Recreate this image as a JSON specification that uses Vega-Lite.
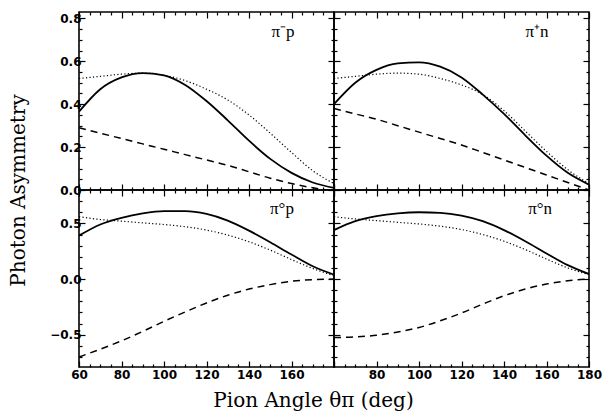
{
  "$schema": "https://vega.github.io/schema/vega-lite/v6.json",
  "background": "white",
  "padding": {"left": 7, "top": 10, "right": 12, "bottom": 3},
  "config": {
    "view": {"stroke": "black", "strokeWidth": 1.6},
    "axis": {"grid": false, "domain": false, "tickColor": "black", "tickWidth": 1.2, "labelFlush": false, "labelOverlap": false, "labelFont": "DejaVu Sans", "labelFontSize": 12, "labelFontWeight": "bold", "labelColor": "black", "titleFont": "DejaVu Serif", "titleFontSize": 20, "titleFontWeight": "normal", "titleColor": "black"}
  },
  "datasets": {
    "curves": [
      {"panel":"a","style":"s","angle":60,"asym":0.365},{"panel":"a","style":"s","angle":70,"asym":0.47},{"panel":"a","style":"s","angle":80,"asym":0.525},{"panel":"a","style":"s","angle":90,"asym":0.545},{"panel":"a","style":"s","angle":100,"asym":0.535},{"panel":"a","style":"s","angle":110,"asym":0.49},{"panel":"a","style":"s","angle":120,"asym":0.415},{"panel":"a","style":"s","angle":130,"asym":0.325},{"panel":"a","style":"s","angle":140,"asym":0.23},{"panel":"a","style":"s","angle":150,"asym":0.145},{"panel":"a","style":"s","angle":160,"asym":0.08},{"panel":"a","style":"s","angle":170,"asym":0.035},{"panel":"a","style":"s","angle":180,"asym":0.01},
      {"panel":"a","style":"d","angle":60,"asym":0.52},{"panel":"a","style":"d","angle":70,"asym":0.53},{"panel":"a","style":"d","angle":80,"asym":0.54},{"panel":"a","style":"d","angle":90,"asym":0.545},{"panel":"a","style":"d","angle":100,"asym":0.535},{"panel":"a","style":"d","angle":110,"asym":0.51},{"panel":"a","style":"d","angle":120,"asym":0.47},{"panel":"a","style":"d","angle":130,"asym":0.42},{"panel":"a","style":"d","angle":140,"asym":0.35},{"panel":"a","style":"d","angle":150,"asym":0.265},{"panel":"a","style":"d","angle":160,"asym":0.175},{"panel":"a","style":"d","angle":170,"asym":0.09},{"panel":"a","style":"d","angle":180,"asym":0.03},
      {"panel":"a","style":"k","angle":60,"asym":0.29},{"panel":"a","style":"k","angle":70,"asym":0.265},{"panel":"a","style":"k","angle":80,"asym":0.24},{"panel":"a","style":"k","angle":90,"asym":0.215},{"panel":"a","style":"k","angle":100,"asym":0.19},{"panel":"a","style":"k","angle":110,"asym":0.165},{"panel":"a","style":"k","angle":120,"asym":0.14},{"panel":"a","style":"k","angle":130,"asym":0.115},{"panel":"a","style":"k","angle":140,"asym":0.085},{"panel":"a","style":"k","angle":150,"asym":0.055},{"panel":"a","style":"k","angle":160,"asym":0.03},{"panel":"a","style":"k","angle":170,"asym":0.01},{"panel":"a","style":"k","angle":180,"asym":-0.005},
      {"panel":"b","style":"s","angle":60,"asym":0.40},{"panel":"b","style":"s","angle":70,"asym":0.50},{"panel":"b","style":"s","angle":80,"asym":0.56},{"panel":"b","style":"s","angle":90,"asym":0.59},{"panel":"b","style":"s","angle":100,"asym":0.595},{"panel":"b","style":"s","angle":110,"asym":0.575},{"panel":"b","style":"s","angle":120,"asym":0.525},{"panel":"b","style":"s","angle":130,"asym":0.445},{"panel":"b","style":"s","angle":140,"asym":0.355},{"panel":"b","style":"s","angle":150,"asym":0.255},{"panel":"b","style":"s","angle":160,"asym":0.16},{"panel":"b","style":"s","angle":170,"asym":0.08},{"panel":"b","style":"s","angle":180,"asym":0.025},
      {"panel":"b","style":"d","angle":60,"asym":0.52},{"panel":"b","style":"d","angle":70,"asym":0.53},{"panel":"b","style":"d","angle":80,"asym":0.54},{"panel":"b","style":"d","angle":90,"asym":0.545},{"panel":"b","style":"d","angle":100,"asym":0.54},{"panel":"b","style":"d","angle":110,"asym":0.52},{"panel":"b","style":"d","angle":120,"asym":0.49},{"panel":"b","style":"d","angle":130,"asym":0.445},{"panel":"b","style":"d","angle":140,"asym":0.37},{"panel":"b","style":"d","angle":150,"asym":0.275},{"panel":"b","style":"d","angle":160,"asym":0.18},{"panel":"b","style":"d","angle":170,"asym":0.095},{"panel":"b","style":"d","angle":180,"asym":0.03},
      {"panel":"b","style":"k","angle":60,"asym":0.38},{"panel":"b","style":"k","angle":70,"asym":0.355},{"panel":"b","style":"k","angle":80,"asym":0.33},{"panel":"b","style":"k","angle":90,"asym":0.30},{"panel":"b","style":"k","angle":100,"asym":0.27},{"panel":"b","style":"k","angle":110,"asym":0.24},{"panel":"b","style":"k","angle":120,"asym":0.21},{"panel":"b","style":"k","angle":130,"asym":0.175},{"panel":"b","style":"k","angle":140,"asym":0.14},{"panel":"b","style":"k","angle":150,"asym":0.105},{"panel":"b","style":"k","angle":160,"asym":0.07},{"panel":"b","style":"k","angle":170,"asym":0.035},{"panel":"b","style":"k","angle":180,"asym":0.0},
      {"panel":"c","style":"s","angle":60,"asym":0.39},{"panel":"c","style":"s","angle":70,"asym":0.49},{"panel":"c","style":"s","angle":80,"asym":0.55},{"panel":"c","style":"s","angle":90,"asym":0.59},{"panel":"c","style":"s","angle":100,"asym":0.61},{"panel":"c","style":"s","angle":110,"asym":0.61},{"panel":"c","style":"s","angle":120,"asym":0.585},{"panel":"c","style":"s","angle":130,"asym":0.525},{"panel":"c","style":"s","angle":140,"asym":0.435},{"panel":"c","style":"s","angle":150,"asym":0.33},{"panel":"c","style":"s","angle":160,"asym":0.22},{"panel":"c","style":"s","angle":170,"asym":0.115},{"panel":"c","style":"s","angle":180,"asym":0.04},
      {"panel":"c","style":"d","angle":60,"asym":0.56},{"panel":"c","style":"d","angle":70,"asym":0.535},{"panel":"c","style":"d","angle":80,"asym":0.52},{"panel":"c","style":"d","angle":90,"asym":0.505},{"panel":"c","style":"d","angle":100,"asym":0.49},{"panel":"c","style":"d","angle":110,"asym":0.47},{"panel":"c","style":"d","angle":120,"asym":0.44},{"panel":"c","style":"d","angle":130,"asym":0.395},{"panel":"c","style":"d","angle":140,"asym":0.335},{"panel":"c","style":"d","angle":150,"asym":0.26},{"panel":"c","style":"d","angle":160,"asym":0.175},{"panel":"c","style":"d","angle":170,"asym":0.095},{"panel":"c","style":"d","angle":180,"asym":0.03},
      {"panel":"c","style":"k","angle":60,"asym":-0.70},{"panel":"c","style":"k","angle":70,"asym":-0.63},{"panel":"c","style":"k","angle":80,"asym":-0.555},{"panel":"c","style":"k","angle":90,"asym":-0.47},{"panel":"c","style":"k","angle":100,"asym":-0.38},{"panel":"c","style":"k","angle":110,"asym":-0.295},{"panel":"c","style":"k","angle":120,"asym":-0.215},{"panel":"c","style":"k","angle":130,"asym":-0.145},{"panel":"c","style":"k","angle":140,"asym":-0.09},{"panel":"c","style":"k","angle":150,"asym":-0.05},{"panel":"c","style":"k","angle":160,"asym":-0.02},{"panel":"c","style":"k","angle":170,"asym":-0.005},{"panel":"c","style":"k","angle":180,"asym":0.0},
      {"panel":"d","style":"s","angle":60,"asym":0.44},{"panel":"d","style":"s","angle":70,"asym":0.52},{"panel":"d","style":"s","angle":80,"asym":0.565},{"panel":"d","style":"s","angle":90,"asym":0.59},{"panel":"d","style":"s","angle":100,"asym":0.60},{"panel":"d","style":"s","angle":110,"asym":0.595},{"panel":"d","style":"s","angle":120,"asym":0.57},{"panel":"d","style":"s","angle":130,"asym":0.52},{"panel":"d","style":"s","angle":140,"asym":0.44},{"panel":"d","style":"s","angle":150,"asym":0.34},{"panel":"d","style":"s","angle":160,"asym":0.23},{"panel":"d","style":"s","angle":170,"asym":0.125},{"panel":"d","style":"s","angle":180,"asym":0.045},
      {"panel":"d","style":"d","angle":60,"asym":0.56},{"panel":"d","style":"d","angle":70,"asym":0.54},{"panel":"d","style":"d","angle":80,"asym":0.525},{"panel":"d","style":"d","angle":90,"asym":0.51},{"panel":"d","style":"d","angle":100,"asym":0.495},{"panel":"d","style":"d","angle":110,"asym":0.475},{"panel":"d","style":"d","angle":120,"asym":0.445},{"panel":"d","style":"d","angle":130,"asym":0.40},{"panel":"d","style":"d","angle":140,"asym":0.34},{"panel":"d","style":"d","angle":150,"asym":0.265},{"panel":"d","style":"d","angle":160,"asym":0.18},{"panel":"d","style":"d","angle":170,"asym":0.10},{"panel":"d","style":"d","angle":180,"asym":0.04},
      {"panel":"d","style":"k","angle":60,"asym":-0.525},{"panel":"d","style":"k","angle":70,"asym":-0.52},{"panel":"d","style":"k","angle":80,"asym":-0.505},{"panel":"d","style":"k","angle":90,"asym":-0.475},{"panel":"d","style":"k","angle":100,"asym":-0.435},{"panel":"d","style":"k","angle":110,"asym":-0.375},{"panel":"d","style":"k","angle":120,"asym":-0.305},{"panel":"d","style":"k","angle":130,"asym":-0.225},{"panel":"d","style":"k","angle":140,"asym":-0.15},{"panel":"d","style":"k","angle":150,"asym":-0.09},{"panel":"d","style":"k","angle":160,"asym":-0.045},{"panel":"d","style":"k","angle":170,"asym":-0.015},{"panel":"d","style":"k","angle":180,"asym":0.0}
    ],
    "labels": [
      {"panel":"a","label":"π⁻p","angle":156,"asym":0.735},
      {"panel":"b","label":"π⁺n","angle":155.5,"asym":0.735},
      {"panel":"c","label":"π°p","angle":155.5,"asym":0.63},
      {"panel":"d","label":"π°n","angle":157,"asym":0.63}
    ]
  },
  "columns": 2,
  "spacing": 0,
  "bounds": "flush",
  "concat": [
    {
      "width": 255, "height": 178,
      "layer": [
        {"data": {"name": "curves"}, "transform": [{"filter": "datum.panel === 'a' && datum.style === 's'"}],
         "mark": {"type": "line", "color": "black", "strokeWidth": 1.8, "interpolate": "monotone", "clip": true},
         "encoding": {
           "x": {"field": "angle", "type": "quantitative", "scale": {"domain": [60, 180], "nice": false, "zero": false},
                 "axis": {"orient": "bottom", "values": [60,65,70,75,80,85,90,95,100,105,110,115,120,125,130,135,140,145,150,155,160,165,170,175,180], "labels": false, "title": null, "tickSize": {"condition": {"test": "datum.value % 20 === 0", "value": -6}, "value": -3}}},
           "y": {"field": "asym", "type": "quantitative", "scale": {"domain": [0, 0.83], "nice": false, "zero": false},
                 "axis": {"orient": "left", "values": [0,0.05,0.1,0.15,0.2,0.25,0.3,0.35,0.4,0.45,0.5,0.55,0.6,0.65,0.7,0.75,0.8], "format": ".1f", "labelExpr": "abs(datum.value*5 - round(datum.value*5)) < 0.001 ? datum.label : ''", "labelPadding": 4, "tickSize": {"condition": {"test": "abs(datum.value*5 - round(datum.value*5)) < 0.001", "value": -6}, "value": -3}, "title": "Photon Asymmetry", "titleY": 178, "titlePadding": 31}}
         }},
        {"data": {"name": "curves"}, "transform": [{"filter": "datum.panel === 'a' && datum.style === 'd'"}],
         "mark": {"type": "line", "color": "black", "strokeWidth": 1.2, "strokeDash": [1.2, 2.3], "interpolate": "monotone", "clip": true},
         "encoding": {
           "x": {"field": "angle", "type": "quantitative", "scale": {"domain": [60, 180], "nice": false, "zero": false}, "axis": null},
           "y": {"field": "asym", "type": "quantitative", "scale": {"domain": [0, 0.83], "nice": false, "zero": false}, "axis": null}
         }},
        {"data": {"name": "curves"}, "transform": [{"filter": "datum.panel === 'a' && datum.style === 'k'"}],
         "mark": {"type": "line", "color": "black", "strokeWidth": 1.5, "strokeDash": [7, 5], "interpolate": "monotone", "clip": true},
         "encoding": {
           "x": {"field": "angle", "type": "quantitative", "scale": {"domain": [60, 180], "nice": false, "zero": false}, "axis": null},
           "y": {"field": "asym", "type": "quantitative", "scale": {"domain": [0, 0.83], "nice": false, "zero": false}, "axis": null}
         }},
        {"data": {"name": "curves"}, "transform": [{"filter": "datum.panel === 'a' && datum.style === 's'"}],
         "mark": {"type": "line", "opacity": 0},
         "encoding": {
           "x": {"field": "angle", "type": "quantitative", "scale": {"domain": [60, 180], "nice": false, "zero": false},
                 "axis": {"orient": "top", "values": [60,65,70,75,80,85,90,95,100,105,110,115,120,125,130,135,140,145,150,155,160,165,170,175,180], "labels": false, "title": null, "tickSize": {"condition": {"test": "datum.value % 20 === 0", "value": -6}, "value": -3}}},
           "y": {"field": "asym", "type": "quantitative", "scale": {"domain": [0, 0.83], "nice": false, "zero": false},
                 "axis": {"orient": "right", "values": [0,0.05,0.1,0.15,0.2,0.25,0.3,0.35,0.4,0.45,0.5,0.55,0.6,0.65,0.7,0.75,0.8], "labels": false, "title": null, "tickSize": {"condition": {"test": "abs(datum.value*5 - round(datum.value*5)) < 0.001", "value": -6}, "value": -3}}}
         }},
        {"data": {"name": "labels"}, "transform": [{"filter": "datum.panel === 'a'"}],
         "mark": {"type": "text", "font": "Liberation Serif", "fontSize": 17, "color": "black", "align": "center", "baseline": "middle"},
         "encoding": {
           "x": {"field": "angle", "type": "quantitative", "scale": {"domain": [60, 180], "nice": false, "zero": false}, "axis": null},
           "y": {"field": "asym", "type": "quantitative", "scale": {"domain": [0, 0.83], "nice": false, "zero": false}, "axis": null},
           "text": {"field": "label"}
         }}
      ],
      "resolve": {"axis": {"x": "independent", "y": "independent"}}
    },
    {
      "width": 255, "height": 178,
      "layer": [
        {"data": {"name": "curves"}, "transform": [{"filter": "datum.panel === 'b' && datum.style === 's'"}],
         "mark": {"type": "line", "color": "black", "strokeWidth": 1.8, "interpolate": "monotone", "clip": true},
         "encoding": {
           "x": {"field": "angle", "type": "quantitative", "scale": {"domain": [60, 180], "nice": false, "zero": false},
                 "axis": {"orient": "bottom", "values": [60,65,70,75,80,85,90,95,100,105,110,115,120,125,130,135,140,145,150,155,160,165,170,175,180], "labels": false, "title": null, "tickSize": {"condition": {"test": "datum.value % 20 === 0", "value": -6}, "value": -3}}},
           "y": {"field": "asym", "type": "quantitative", "scale": {"domain": [0, 0.83], "nice": false, "zero": false},
                 "axis": {"orient": "left", "values": [0,0.05,0.1,0.15,0.2,0.25,0.3,0.35,0.4,0.45,0.5,0.55,0.6,0.65,0.7,0.75,0.8], "labels": false, "title": null, "tickSize": {"condition": {"test": "abs(datum.value*5 - round(datum.value*5)) < 0.001", "value": -6}, "value": -3}}}
         }},
        {"data": {"name": "curves"}, "transform": [{"filter": "datum.panel === 'b' && datum.style === 'd'"}],
         "mark": {"type": "line", "color": "black", "strokeWidth": 1.2, "strokeDash": [1.2, 2.3], "interpolate": "monotone", "clip": true},
         "encoding": {
           "x": {"field": "angle", "type": "quantitative", "scale": {"domain": [60, 180], "nice": false, "zero": false}, "axis": null},
           "y": {"field": "asym", "type": "quantitative", "scale": {"domain": [0, 0.83], "nice": false, "zero": false}, "axis": null}
         }},
        {"data": {"name": "curves"}, "transform": [{"filter": "datum.panel === 'b' && datum.style === 'k'"}],
         "mark": {"type": "line", "color": "black", "strokeWidth": 1.5, "strokeDash": [7, 5], "interpolate": "monotone", "clip": true},
         "encoding": {
           "x": {"field": "angle", "type": "quantitative", "scale": {"domain": [60, 180], "nice": false, "zero": false}, "axis": null},
           "y": {"field": "asym", "type": "quantitative", "scale": {"domain": [0, 0.83], "nice": false, "zero": false}, "axis": null}
         }},
        {"data": {"name": "curves"}, "transform": [{"filter": "datum.panel === 'b' && datum.style === 's'"}],
         "mark": {"type": "line", "opacity": 0},
         "encoding": {
           "x": {"field": "angle", "type": "quantitative", "scale": {"domain": [60, 180], "nice": false, "zero": false},
                 "axis": {"orient": "top", "values": [60,65,70,75,80,85,90,95,100,105,110,115,120,125,130,135,140,145,150,155,160,165,170,175,180], "labels": false, "title": null, "tickSize": {"condition": {"test": "datum.value % 20 === 0", "value": -6}, "value": -3}}},
           "y": {"field": "asym", "type": "quantitative", "scale": {"domain": [0, 0.83], "nice": false, "zero": false},
                 "axis": {"orient": "right", "values": [0,0.05,0.1,0.15,0.2,0.25,0.3,0.35,0.4,0.45,0.5,0.55,0.6,0.65,0.7,0.75,0.8], "labels": false, "title": null, "tickSize": {"condition": {"test": "abs(datum.value*5 - round(datum.value*5)) < 0.001", "value": -6}, "value": -3}}}
         }},
        {"data": {"name": "labels"}, "transform": [{"filter": "datum.panel === 'b'"}],
         "mark": {"type": "text", "font": "Liberation Serif", "fontSize": 17, "color": "black", "align": "center", "baseline": "middle"},
         "encoding": {
           "x": {"field": "angle", "type": "quantitative", "scale": {"domain": [60, 180], "nice": false, "zero": false}, "axis": null},
           "y": {"field": "asym", "type": "quantitative", "scale": {"domain": [0, 0.83], "nice": false, "zero": false}, "axis": null},
           "text": {"field": "label"}
         }}
      ],
      "resolve": {"axis": {"x": "independent", "y": "independent"}}
    },
    {
      "width": 255, "height": 177,
      "layer": [
        {"data": {"name": "curves"}, "transform": [{"filter": "datum.panel === 'c' && datum.style === 's'"}],
         "mark": {"type": "line", "color": "black", "strokeWidth": 1.8, "interpolate": "monotone", "clip": true},
         "encoding": {
           "x": {"field": "angle", "type": "quantitative", "scale": {"domain": [60, 180], "nice": false, "zero": false},
                 "axis": {"orient": "bottom", "values": [60,65,70,75,80,85,90,95,100,105,110,115,120,125,130,135,140,145,150,155,160,165,170,175,180], "labelExpr": "datum.value % 20 === 0 && datum.value !== 180 ? datum.label : ''", "labelPadding": 8, "title": "Pion Angle θπ (deg)", "titleX": 234, "titlePadding": 7, "tickSize": {"condition": {"test": "datum.value % 20 === 0", "value": -6}, "value": -3}}},
           "y": {"field": "asym", "type": "quantitative", "scale": {"domain": [-0.79, 0.8], "nice": false, "zero": false},
                 "axis": {"orient": "left", "values": [-0.7,-0.6,-0.5,-0.4,-0.3,-0.2,-0.1,0,0.1,0.2,0.3,0.4,0.5,0.6,0.7], "format": ".1f", "labelExpr": "abs(datum.value*2 - round(datum.value*2)) < 0.001 ? datum.label : ''", "labelPadding": 4, "title": null, "tickSize": {"condition": {"test": "abs(datum.value*2 - round(datum.value*2)) < 0.001", "value": -6}, "value": -3}}}
         }},
        {"data": {"name": "curves"}, "transform": [{"filter": "datum.panel === 'c' && datum.style === 'd'"}],
         "mark": {"type": "line", "color": "black", "strokeWidth": 1.2, "strokeDash": [1.2, 2.3], "interpolate": "monotone", "clip": true},
         "encoding": {
           "x": {"field": "angle", "type": "quantitative", "scale": {"domain": [60, 180], "nice": false, "zero": false}, "axis": null},
           "y": {"field": "asym", "type": "quantitative", "scale": {"domain": [-0.79, 0.8], "nice": false, "zero": false}, "axis": null}
         }},
        {"data": {"name": "curves"}, "transform": [{"filter": "datum.panel === 'c' && datum.style === 'k'"}],
         "mark": {"type": "line", "color": "black", "strokeWidth": 1.5, "strokeDash": [7, 5], "interpolate": "monotone", "clip": true},
         "encoding": {
           "x": {"field": "angle", "type": "quantitative", "scale": {"domain": [60, 180], "nice": false, "zero": false}, "axis": null},
           "y": {"field": "asym", "type": "quantitative", "scale": {"domain": [-0.79, 0.8], "nice": false, "zero": false}, "axis": null}
         }},
        {"data": {"name": "curves"}, "transform": [{"filter": "datum.panel === 'c' && datum.style === 's'"}],
         "mark": {"type": "line", "opacity": 0},
         "encoding": {
           "x": {"field": "angle", "type": "quantitative", "scale": {"domain": [60, 180], "nice": false, "zero": false},
                 "axis": {"orient": "top", "values": [60,65,70,75,80,85,90,95,100,105,110,115,120,125,130,135,140,145,150,155,160,165,170,175,180], "labels": false, "title": null, "tickSize": {"condition": {"test": "datum.value % 20 === 0", "value": -6}, "value": -3}}},
           "y": {"field": "asym", "type": "quantitative", "scale": {"domain": [-0.79, 0.8], "nice": false, "zero": false},
                 "axis": {"orient": "right", "values": [-0.7,-0.6,-0.5,-0.4,-0.3,-0.2,-0.1,0,0.1,0.2,0.3,0.4,0.5,0.6,0.7], "labels": false, "title": null, "tickSize": {"condition": {"test": "abs(datum.value*2 - round(datum.value*2)) < 0.001", "value": -6}, "value": -3}}}
         }},
        {"data": {"name": "labels"}, "transform": [{"filter": "datum.panel === 'c'"}],
         "mark": {"type": "text", "font": "Liberation Serif", "fontSize": 17, "color": "black", "align": "center", "baseline": "middle"},
         "encoding": {
           "x": {"field": "angle", "type": "quantitative", "scale": {"domain": [60, 180], "nice": false, "zero": false}, "axis": null},
           "y": {"field": "asym", "type": "quantitative", "scale": {"domain": [-0.79, 0.8], "nice": false, "zero": false}, "axis": null},
           "text": {"field": "label"}
         }}
      ],
      "resolve": {"axis": {"x": "independent", "y": "independent"}}
    },
    {
      "width": 255, "height": 177,
      "layer": [
        {"data": {"name": "curves"}, "transform": [{"filter": "datum.panel === 'd' && datum.style === 's'"}],
         "mark": {"type": "line", "color": "black", "strokeWidth": 1.8, "interpolate": "monotone", "clip": true},
         "encoding": {
           "x": {"field": "angle", "type": "quantitative", "scale": {"domain": [60, 180], "nice": false, "zero": false},
                 "axis": {"orient": "bottom", "values": [60,65,70,75,80,85,90,95,100,105,110,115,120,125,130,135,140,145,150,155,160,165,170,175,180], "labelExpr": "datum.value % 20 === 0 && datum.value !== 60 ? datum.label : ''", "labelPadding": 8, "title": null, "tickSize": {"condition": {"test": "datum.value % 20 === 0", "value": -6}, "value": -3}}},
           "y": {"field": "asym", "type": "quantitative", "scale": {"domain": [-0.79, 0.8], "nice": false, "zero": false},
                 "axis": {"orient": "left", "values": [-0.7,-0.6,-0.5,-0.4,-0.3,-0.2,-0.1,0,0.1,0.2,0.3,0.4,0.5,0.6,0.7], "labels": false, "title": null, "tickSize": {"condition": {"test": "abs(datum.value*2 - round(datum.value*2)) < 0.001", "value": -6}, "value": -3}}}
         }},
        {"data": {"name": "curves"}, "transform": [{"filter": "datum.panel === 'd' && datum.style === 'd'"}],
         "mark": {"type": "line", "color": "black", "strokeWidth": 1.2, "strokeDash": [1.2, 2.3], "interpolate": "monotone", "clip": true},
         "encoding": {
           "x": {"field": "angle", "type": "quantitative", "scale": {"domain": [60, 180], "nice": false, "zero": false}, "axis": null},
           "y": {"field": "asym", "type": "quantitative", "scale": {"domain": [-0.79, 0.8], "nice": false, "zero": false}, "axis": null}
         }},
        {"data": {"name": "curves"}, "transform": [{"filter": "datum.panel === 'd' && datum.style === 'k'"}],
         "mark": {"type": "line", "color": "black", "strokeWidth": 1.5, "strokeDash": [7, 5], "interpolate": "monotone", "clip": true},
         "encoding": {
           "x": {"field": "angle", "type": "quantitative", "scale": {"domain": [60, 180], "nice": false, "zero": false}, "axis": null},
           "y": {"field": "asym", "type": "quantitative", "scale": {"domain": [-0.79, 0.8], "nice": false, "zero": false}, "axis": null}
         }},
        {"data": {"name": "curves"}, "transform": [{"filter": "datum.panel === 'd' && datum.style === 's'"}],
         "mark": {"type": "line", "opacity": 0},
         "encoding": {
           "x": {"field": "angle", "type": "quantitative", "scale": {"domain": [60, 180], "nice": false, "zero": false},
                 "axis": {"orient": "top", "values": [60,65,70,75,80,85,90,95,100,105,110,115,120,125,130,135,140,145,150,155,160,165,170,175,180], "labels": false, "title": null, "tickSize": {"condition": {"test": "datum.value % 20 === 0", "value": -6}, "value": -3}}},
           "y": {"field": "asym", "type": "quantitative", "scale": {"domain": [-0.79, 0.8], "nice": false, "zero": false},
                 "axis": {"orient": "right", "values": [-0.7,-0.6,-0.5,-0.4,-0.3,-0.2,-0.1,0,0.1,0.2,0.3,0.4,0.5,0.6,0.7], "labels": false, "title": null, "tickSize": {"condition": {"test": "abs(datum.value*2 - round(datum.value*2)) < 0.001", "value": -6}, "value": -3}}}
         }},
        {"data": {"name": "labels"}, "transform": [{"filter": "datum.panel === 'd'"}],
         "mark": {"type": "text", "font": "Liberation Serif", "fontSize": 17, "color": "black", "align": "center", "baseline": "middle"},
         "encoding": {
           "x": {"field": "angle", "type": "quantitative", "scale": {"domain": [60, 180], "nice": false, "zero": false}, "axis": null},
           "y": {"field": "asym", "type": "quantitative", "scale": {"domain": [-0.79, 0.8], "nice": false, "zero": false}, "axis": null},
           "text": {"field": "label"}
         }}
      ],
      "resolve": {"axis": {"x": "independent", "y": "independent"}}
    }
  ]
}
